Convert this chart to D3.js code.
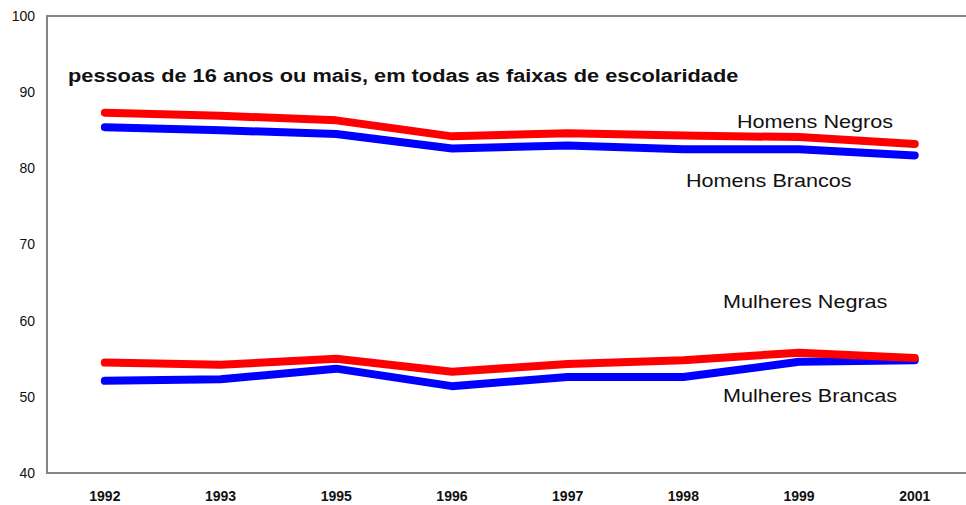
<!DOCTYPE html>
<html>
<head>
<meta charset="utf-8">
<script src="https://cdn.jsdelivr.net/npm/d3@7"></script>
<style>
  body { margin: 0; background: #fff; }
  svg { display: block; font-family: "Liberation Sans", Arial, sans-serif; }
</style>
</head>
<body>
<div id="wrapper"></div>
<script>
// data
const years = ["1992", "1993", "1995", "1996", "1997", "1998", "1999", "2001"]
const homensNegros    = [87.3, 86.9, 86.3, 84.2, 84.6, 84.3, 84.1, 83.2]
const homensBrancos   = [85.4, 85.0, 84.5, 82.6, 83.0, 82.5, 82.5, 81.7]
const mulheresNegras  = [54.5, 54.2, 55.0, 53.3, 54.3, 54.8, 55.8, 55.1]
const mulheresBrancas = [52.1, 52.3, 53.7, 51.4, 52.6, 52.6, 54.6, 54.8]
const yTicks = [40, 50, 60, 70, 80, 90, 100]
const title = "pessoas de 16 anos ou mais, em todas as faixas de escolaridade"

function drawChart() {
  const dimensions = {
    width: 966,
    height: 505,
    margin: { top: 16, left: 47, bottom: 32 },
  }
  const plotBottom = dimensions.height - dimensions.margin.bottom
  const plotRight = dimensions.margin.left + 8 * 115.7

  const svg = d3.select("#wrapper")
    .append("svg")
      .attr("width", dimensions.width)
      .attr("height", dimensions.height)

  const xScaler = d3.scaleBand()
    .domain(years)
    .range([dimensions.margin.left, plotRight])

  const yScaler = d3.scaleLinear()
    .domain([40, 100])
    .range([plotBottom, dimensions.margin.top])

  // frame (right side runs off the picture)
  svg.append("rect")
    .attr("x", dimensions.margin.left)
    .attr("y", dimensions.margin.top)
    .attr("width", plotRight - dimensions.margin.left)
    .attr("height", plotBottom - dimensions.margin.top)
    .attr("fill", "none")
    .attr("stroke", "#858585")
    .attr("stroke-width", 2)

  // y axis labels
  const yAxis = svg.append("g")
    .attr("transform", `translate(${dimensions.margin.left - 12},0)`)
    .call(d3.axisLeft(yScaler).tickValues(yTicks).tickSize(0).tickPadding(0))
  yAxis.select(".domain").remove()
  yAxis.selectAll("text")
    .attr("font-family", "Liberation Sans, Arial, sans-serif")
    .attr("font-size", "14px")
    .attr("fill", "#111")

  // x axis labels
  const xAxis = svg.append("g")
    .attr("transform", `translate(0,${plotBottom})`)
    .call(d3.axisBottom(xScaler).tickSize(0).tickPadding(18))
  xAxis.select(".domain").remove()
  xAxis.selectAll("text")
    .attr("font-family", "Liberation Sans, Arial, sans-serif")
    .attr("font-size", "14px")
    .attr("font-weight", "bold")
    .attr("fill", "#111")

  const line = d3.line()
    .x((d, i) => xScaler(years[i]) + xScaler.bandwidth() / 2)
    .y(d => yScaler(d))

  const series = [
    { values: homensBrancos, color: "#0000ff" },
    { values: homensNegros, color: "#ff0000" },
    { values: mulheresBrancas, color: "#0000ff" },
    { values: mulheresNegras, color: "#ff0000" },
  ]

  svg.append("g")
    .selectAll("path")
    .data(series)
    .join("path")
      .attr("d", d => line(d.values))
      .attr("fill", "none")
      .attr("stroke", d => d.color)
      .attr("stroke-width", 8)
      .attr("stroke-linecap", "round")
      .attr("stroke-linejoin", "round")

  // title and series labels are slightly wide in the original, so stretch them
  const labels = [
    { text: title, x: 68, y: 81.5, bold: true, sx: 1.21 },
    { text: "Homens Negros", x: 737, y: 127.5, sx: 1.2 },
    { text: "Homens Brancos", x: 686, y: 187, sx: 1.2 },
    { text: "Mulheres Negras", x: 723, y: 308, sx: 1.2 },
    { text: "Mulheres Brancas", x: 723, y: 401.5, sx: 1.2 },
  ]

  svg.append("g")
    .selectAll("text")
    .data(labels)
    .join("text")
      .attr("transform", d => `translate(${d.x},${d.y}) scale(${d.sx},1)`)
      .attr("font-size", "18px")
      .attr("font-weight", d => d.bold ? "bold" : "normal")
      .attr("fill", "#111")
      .text(d => d.text)
}

drawChart()
</script>
</body>
</html>
